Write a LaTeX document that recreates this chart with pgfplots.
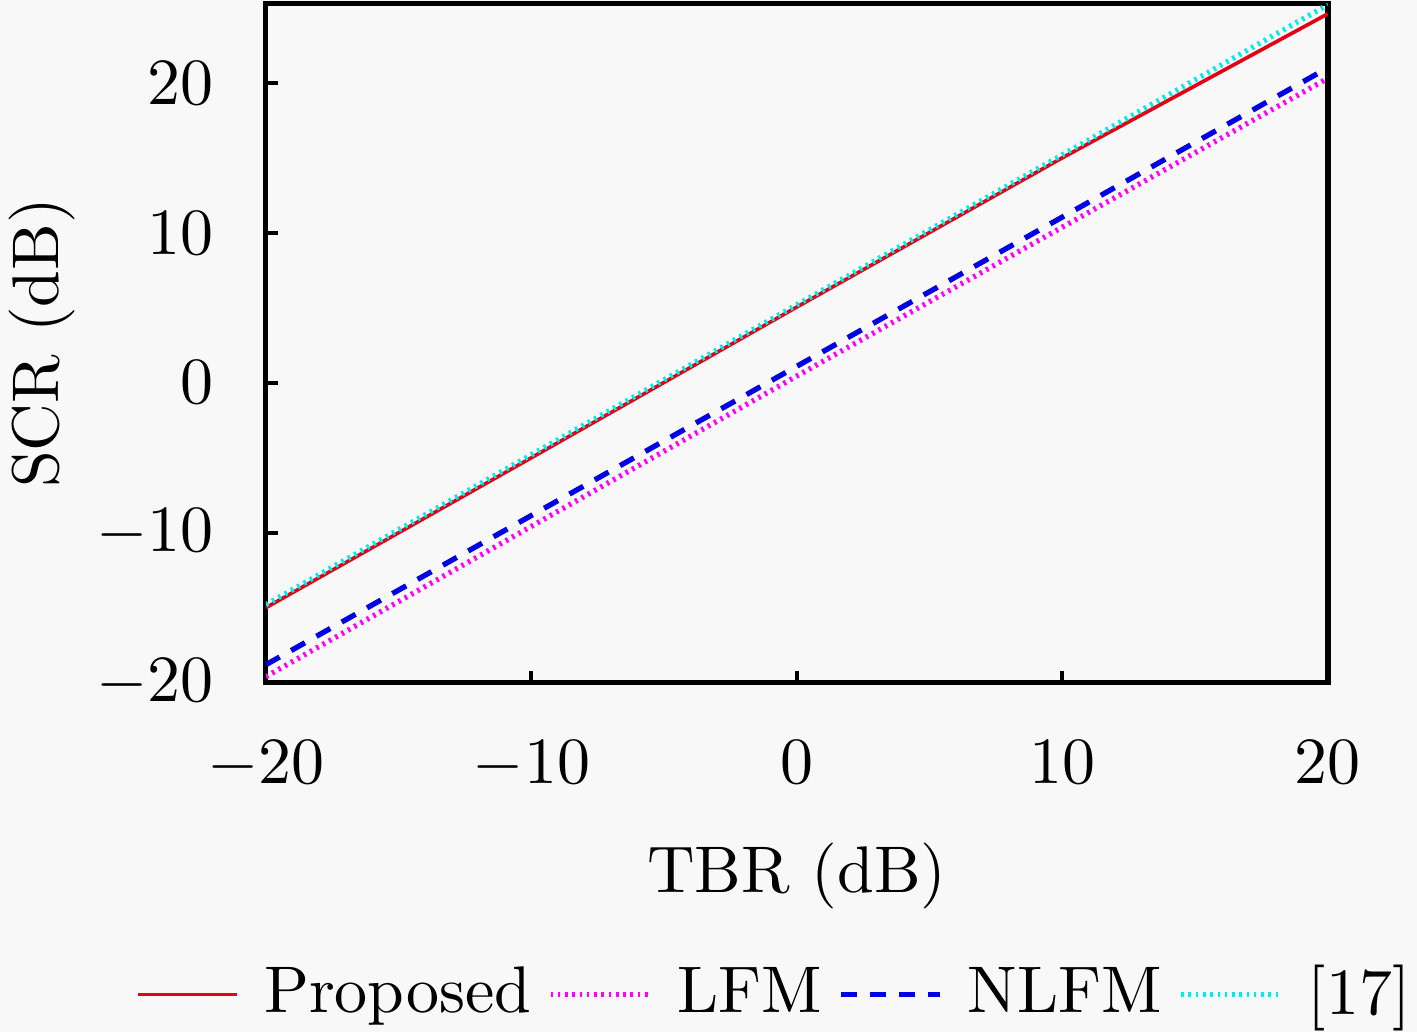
\documentclass[border=0pt]{standalone}
\usepackage{pgfplots}
\pgfplotsset{compat=1.18}
\usetikzlibrary{backgrounds}
\definecolor{bgc}{RGB}{248,248,248}
\definecolor{cprop}{RGB}{230,0,20}
\definecolor{clfm}{RGB}{255,0,255}
\definecolor{cnlfm}{RGB}{0,0,230}
\definecolor{cref}{RGB}{0,235,235}
\begin{document}
\begin{tikzpicture}[background rectangle/.style={fill=bgc,draw=none},show background rectangle,inner frame sep=0pt]
\begin{axis}[
  name=ax,
  scale only axis,
  width=161pt, height=103pt,
  xmin=-20, xmax=20, ymin=-20, ymax=25.3,
  xtick={-20,-10,0,10,20}, ytick={-20,-10,0,10,20},
  xtick pos=bottom, ytick pos=left,
  tick align=inside, major tick length=1.8pt,
  tick style={black, line width=0.6pt},
  axis line style={line width=0.8pt},
  xticklabel style={yshift=-5.3pt},
  yticklabel style={xshift=-4.4pt},
  xlabel={TBR (dB)}, ylabel={SCR (dB)},
  xlabel style={at={(axis description cs:0.5,-0.285)}, anchor=center},
  ylabel style={at={(axis description cs:-0.211,0.5)}, anchor=center, rotate=0},
  legend columns=4,
  legend image code/.code={\draw[#1] (0pt,0pt) -- (15pt,0pt);},
  legend style={at={(axis description cs:0.483,-0.459)}, anchor=center, draw=none, fill=none,
    nodes={inner sep=1.6pt},
    /tikz/every odd column/.append style={column sep=2.2pt},
    /tikz/every even column/.append style={column sep=0.9pt}},
  legend cell align=left,
]
\addplot[color=cprop, line width=0.55pt] coordinates {(-20,-15.0) (-10,-5.0) (0,5.05) (10,15.0) (15,19.8) (20,24.6)};
\addlegendentry{Proposed}
\addplot[color=clfm, line width=0.8pt, dash pattern=on 0.4pt off 0.7pt] coordinates {(-20,-19.6) (0,0.45) (20,20.3)};
\addlegendentry{LFM}
\addplot[color=cnlfm, line width=0.8pt, dash pattern=on 2.4pt off 2pt] coordinates {(-20,-18.8) (0,1.1) (20,21.0)};
\addlegendentry{NLFM}
\addplot[color=cref, line width=0.8pt, dash pattern=on 0.4pt off 0.7pt] coordinates {(-20,-14.8) (0,5.2) (20,25.2)};
\addlegendentry{[17]}
\end{axis}
\pgfresetboundingbox
\path[use as bounding box] ([xshift=-40.3pt,yshift=-52.9pt]ax.south west) rectangle ([xshift=13.5pt,yshift=0.5pt]ax.north east);
\end{tikzpicture}
\end{document}
